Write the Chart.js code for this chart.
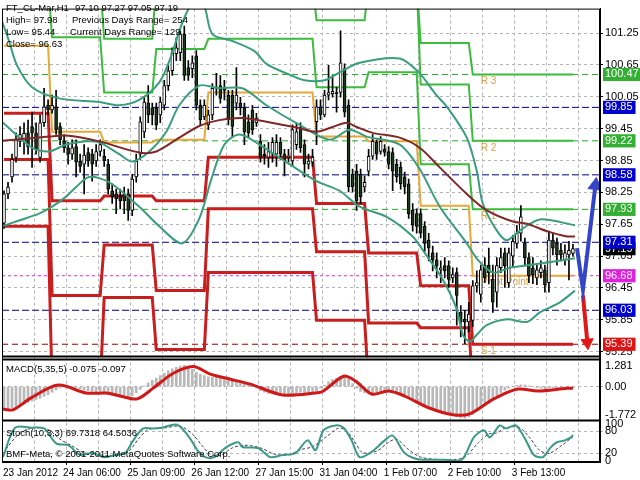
<!DOCTYPE html>
<html>
<head>
<meta charset="utf-8">
<script src="https://cdn.jsdelivr.net/npm/chart.js@4.4.0/dist/chart.umd.min.js"></script>
<style>
  html, body { margin: 0; padding: 0; background: #fff; }
  #wrap { width: 640px; height: 480px; }
</style>
</head>
<body>
<div id="wrap"><canvas id="chart" width="640" height="480"></canvas></div>
<script>
// ---- H1 candles, bar index 0..142 ----
const open = [
  97.67, 98.22, 98.54, 98.91, 99.21, 99.21, 99.37, 99.49, 99.37, 98.91,
  99.56, 99.89, 99.80, 99.86, 99.49, 99.21, 99.09, 98.97, 99.11, 98.84,
  98.78, 99.00, 98.97, 98.84, 99.02, 98.93, 98.78, 98.28, 98.22, 98.19,
  98.22, 98.22, 97.91, 98.54, 98.97, 99.39, 99.93, 99.84, 99.84, 99.71,
  99.89, 100.26, 100.54, 100.86, 100.88, 101.23, 100.60, 100.58, 100.82, 99.89,
  99.67, 99.52, 99.71, 100.21, 100.26, 100.21, 100.08, 100.08, 99.93, 99.93,
  99.84, 99.58, 99.80, 99.56, 99.21, 98.97, 98.91, 98.97, 98.97, 99.19,
  98.97, 98.91, 98.84, 99.15, 99.47, 99.15, 98.78, 98.82, 99.58, 99.86,
  99.71, 100.08, 100.11, 100.13, 100.13, 100.58, 99.89, 98.59, 98.65, 98.59,
  98.35, 98.65, 98.93, 99.19, 99.02, 99.06, 99.02, 99.00, 98.78, 98.72,
  98.54, 98.41, 97.91, 97.85, 97.85, 97.61, 97.35, 97.11, 96.98, 96.79,
  96.87, 96.87, 96.64, 96.74, 95.99, 95.86, 95.81, 95.84, 96.49, 96.33,
  96.87, 96.88, 96.61, 96.37, 96.83, 97.11, 96.55, 97.05, 97.29, 97.48,
  97.29, 97.02, 96.83, 96.64, 96.74, 96.79, 96.55, 97.35, 97.29, 97.16,
  96.98, 97.07, 97.10
];
const high = [
  98.28, 98.44, 98.97, 99.37, 99.49, 99.56, 99.61, 99.76, 99.56, 99.71,
  100.21, 99.99, 100.08, 100.17, 99.56, 99.34, 99.19, 99.24, 99.24, 98.97,
  99.15, 99.09, 99.06, 99.15, 99.24, 99.06, 98.87, 98.41, 98.31, 98.31,
  98.35, 98.31, 98.59, 98.97, 99.67, 100.04, 100.26, 99.93, 99.93, 100.04,
  100.36, 100.64, 100.97, 101.16, 101.29, 101.38, 100.73, 100.82, 100.92, 99.99,
  99.99, 99.80, 100.30, 100.49, 100.45, 100.36, 100.17, 100.17, 100.60, 100.04,
  99.93, 99.71, 99.89, 99.74, 99.34, 99.15, 99.19, 99.28, 99.34, 99.28,
  99.06, 99.06, 99.52, 99.56, 99.56, 99.24, 98.97, 99.06, 99.99, 99.99,
  100.17, 100.64, 100.45, 100.23, 101.29, 100.67, 99.99, 98.69, 98.78, 98.69,
  98.56, 99.06, 99.34, 99.24, 99.30, 99.15, 99.11, 99.09, 98.87, 98.82,
  98.63, 98.50, 98.04, 97.94, 97.94, 97.70, 97.48, 97.24, 97.11, 96.96,
  97.02, 96.96, 96.83, 96.83, 96.12, 96.03, 96.18, 96.59, 96.77, 96.88,
  97.02, 97.20, 96.88, 97.02, 97.20, 97.20, 97.20, 97.44, 97.63, 98.00,
  97.39, 97.11, 97.02, 96.88, 96.96, 96.88, 97.52, 97.48, 97.39, 97.29,
  97.26, 97.33, 97.27
];
const low = [
  97.57, 98.13, 98.44, 98.82, 99.11, 98.97, 98.97, 98.72, 98.97, 98.82,
  99.49, 99.71, 99.74, 99.34, 99.15, 99.00, 98.78, 98.87, 98.54, 98.63,
  98.22, 98.74, 98.46, 98.74, 98.93, 98.74, 98.22, 98.04, 97.85, 97.94,
  97.85, 97.72, 97.81, 98.44, 98.87, 99.28, 99.56, 99.52, 99.43, 99.56,
  99.80, 100.17, 100.45, 100.73, 100.73, 100.36, 100.36, 100.41, 99.80, 99.52,
  99.62, 99.43, 99.62, 100.08, 99.93, 99.99, 99.52, 99.28, 99.80, 99.71,
  99.15, 99.28, 99.34, 99.49, 98.82, 98.78, 98.72, 98.82, 98.74, 98.87,
  98.56, 98.82, 98.74, 99.06, 99.00, 98.54, 98.69, 98.74, 99.15, 99.62,
  99.67, 99.99, 100.04, 99.76, 100.04, 99.67, 98.26, 98.26, 97.91, 98.04,
  98.26, 98.56, 98.87, 98.87, 98.97, 98.93, 98.69, 98.28, 98.44, 98.31,
  98.22, 97.76, 97.52, 97.48, 97.39, 97.14, 96.96, 96.77, 96.64, 96.55,
  96.64, 96.46, 96.55, 95.75, 95.53, 95.40, 95.62, 95.72, 96.37, 96.18,
  96.55, 96.53, 95.99, 96.09, 96.74, 96.46, 96.46, 96.83, 97.20, 97.33,
  96.88, 96.55, 96.53, 96.51, 96.64, 96.37, 96.37, 97.07, 96.88, 96.96,
  96.88, 96.60, 97.05
];
const close = [
  98.22, 98.35, 98.87, 99.24, 99.34, 99.36, 99.11, 99.37, 99.06, 99.56,
  99.86, 99.80, 99.89, 99.43, 99.24, 99.09, 98.97, 99.09, 98.82, 98.74,
  98.95, 98.84, 98.78, 99.02, 99.15, 98.84, 98.31, 98.17, 98.13, 98.09,
  98.09, 97.91, 98.50, 98.84, 99.58, 99.95, 99.71, 99.71, 99.52, 99.95,
  100.26, 100.54, 100.88, 100.97, 101.23, 100.45, 100.45, 100.69, 99.89, 99.62,
  99.89, 99.71, 100.21, 100.23, 100.02, 100.17, 99.62, 99.49, 100.08, 99.84,
  99.39, 99.37, 99.43, 99.65, 98.91, 98.93, 99.02, 99.19, 99.19, 98.97,
  98.84, 98.93, 99.43, 99.39, 99.09, 98.78, 98.84, 98.91, 99.86, 99.71,
  100.08, 100.13, 100.15, 100.11, 100.69, 99.76, 98.35, 98.35, 98.09, 98.17,
  98.44, 98.93, 99.21, 98.97, 99.21, 99.00, 98.78, 98.65, 98.54, 98.41,
  98.35, 97.85, 97.63, 97.61, 97.48, 97.29, 97.20, 96.98, 96.87, 96.83,
  96.77, 96.61, 96.70, 96.31, 95.81, 95.81, 95.96, 96.49, 96.55, 96.79,
  96.64, 96.74, 96.18, 96.87, 97.02, 96.87, 97.11, 97.33, 97.48, 97.79,
  97.02, 96.68, 96.70, 96.79, 96.83, 96.51, 97.35, 97.20, 97.07, 97.07,
  97.11, 97.16, 97.19
];

// ---- indicator lines, [bar index, value] ----
const bbUpper = [[-0.5,101.47],[1.25,101.10],[3.25,100.64],[7,100.23],[13.75,100.02],[23.75,99.95],[28.75,99.89],[33.75,99.99],[38.75,100.32],[41.75,100.82],[43.75,101.29],[45.75,101.66],[47.75,101.90],[50,101.75],[52,101.23],[57,101.10],[62.5,100.91],[65.5,100.67],[70.5,100.49],[75,100.36],[80,100.36],[83.75,100.51],[88.75,100.69],[98.75,100.77],[103.75,100.49],[107.5,100.12],[110.75,99.84],[115.5,99.28],[118,98.65],[119.5,98.04],[123,97.53],[125.5,97.35],[128.75,97.53],[133.75,97.74],[142.5,97.63]];
const bbMiddle = [[-0.5,99.58],[7,99.09],[11.25,99.02],[15.5,99.15],[20.5,99.21],[23.75,99.19],[28.75,98.97],[32,98.83],[36.25,99.02],[40.5,99.39],[43.75,99.89],[48.75,100.26],[53.75,100.21],[59.5,100.21],[65.5,99.89],[73.75,99.52],[81.25,99.24],[86.25,99.43],[90.5,99.30],[98.75,99.15],[103.75,98.69],[108.75,97.98],[115.5,97.29],[118.25,96.98],[122,96.74],[126.25,96.83],[131.25,96.88],[142.5,97.01]];
const bbLower = [[-0.5,97.61],[3.75,97.72],[8.75,97.85],[12,97.98],[15.5,98.17],[18,98.35],[21.25,98.54],[26.25,98.44],[33.75,97.98],[38.75,97.61],[44.5,97.29],[48.75,97.76],[51.75,98.50],[55,99.15],[58.75,99.34],[63.75,99.15],[71.25,98.78],[78,98.46],[83.75,98.28],[88.75,97.98],[95.5,97.79],[102,97.42],[105,97.11],[109.5,96.61],[113,96.05],[114.5,95.57],[116.25,95.44],[118,95.57],[120.5,95.75],[125.5,95.86],[130.5,95.81],[133.75,95.99],[138.75,96.18],[142.5,96.40]];
const maSlow = [[-0.5,99.22],[11.25,99.30],[15.5,99.32],[23.75,99.21],[33.75,99.00],[38,99.02],[43.75,99.28],[48.75,99.50],[53.75,99.61],[59.5,99.65],[65.5,99.58],[73,99.47],[78,99.39],[82,99.48],[85.5,99.56],[88,99.48],[92,99.37],[98.75,99.28],[103.75,99.09],[108.75,98.72],[115.5,98.22],[120.5,97.91],[127,97.70],[130.5,97.66],[135.5,97.52],[140.5,97.42],[142.5,97.42]];

// ---- daily pivots (one value per day segment; 102.2 / 94.6 = off chart) ----
const segStart = [0, 12, 25, 38, 51, 78, 91, 104, 117];
const lastBar = 142;
const pivotR3 = [102.2, 102.2, 102.2, 102.2, 102.2, 102.2, 102.2, 101.06, 100.47];
const pivotR2 = [102.2, 102.2, 101.14, 102.2, 102.2, 101.49, 102.2, 100.28, 99.22];
const pivotR1 = [102.2, 101.17, 100.13, 100.95, 101.14, 100.23, 100.51, 98.78, 97.93];
const pivotP  = [101.01, 99.39, 99.19, 99.24, 100.13, 99.30, 99.21, 98.00, 96.68];
const pivotS1 = [99.74, 98.09, 98.18, 98.09, 98.91, 98.04, 97.11, 96.49, 95.39];
const pivotS2 = [98.87, 96.31, 97.26, 96.40, 97.94, 97.13, 95.79, 95.70, 94.6];
const pivotS3 = [97.61, 94.6, 96.27, 95.29, 96.74, 95.84, 94.6, 94.6, 94.6];

// today's levels (right side labels)
const levelValues = [100.47, 99.85, 99.22, 98.58, 97.93, 97.31, 96.68, 96.03, 95.39];
const levelKinds  = ['R', 'M', 'R', 'M', 'R', 'M', 'P', 'M', 'S'];
const levelNames  = ['R 3', '', 'R 2', '', 'R 1', '', 'Pivot Point', '', 'S 1'];
const lastPrice = 97.19;

// forecast zigzag
const forecastUp = [[143, 97.20], [144.5, 96.42], [147.6, 98.38]];
const forecastDown = [[144.5, 96.31], [145.6, 95.42]];

// ---- MACD(5,35,5) ----
const macdHist = [
  -1.35, -1.38, -1.35, -1.28, -1.20, -1.10, -1.00, -0.90, -0.80, -0.72,
  -0.62, -0.50, -0.35, -0.20, -0.08, 0.00, 0.05, 0.02, -0.05, -0.12,
  -0.20, -0.25, -0.30, -0.32, -0.30, -0.35, -0.45, -0.55, -0.62, -0.66,
  -0.70, -0.68, -0.55, -0.38, -0.18, 0.05, 0.25, 0.40, 0.55, 0.70,
  0.85, 1.00, 1.12, 1.22, 1.30, 1.35, 1.25, 1.10, 0.90, 0.78,
  0.70, 0.62, 0.60, 0.58, 0.55, 0.50, 0.45, 0.38, 0.35, 0.30,
  0.22, 0.12, 0.00, -0.10, -0.25, -0.35, -0.42, -0.45, -0.48, -0.50,
  -0.50, -0.48, -0.42, -0.38, -0.35, -0.38, -0.40, -0.38, -0.30, -0.10,
  0.10, 0.30, 0.45, 0.55, 0.65, 0.70, 0.50, 0.20, -0.10, -0.30,
  -0.40, -0.45, -0.40, -0.35, -0.30, -0.28, -0.30, -0.35, -0.42, -0.50,
  -0.58, -0.70, -0.82, -0.95, -1.05, -1.15, -1.25, -1.35, -1.45, -1.52,
  -1.60, -1.70, -1.80, -1.88, -1.95, -1.98, -1.90, -1.75, -1.55, -1.35,
  -1.15, -0.95, -0.75, -0.55, -0.38, -0.22, -0.10, 0.00, 0.08, 0.12,
  0.10, 0.05, 0.00, -0.05, -0.10, -0.12, -0.10, -0.08, -0.08, -0.09,
  -0.08, -0.08, -0.075
];
const macdSignal = [[-0.5,-1.40],[2.25,-1.46],[6.75,-0.71],[13.5,0.10],[20.5,-0.40],[25.5,-0.40],[29,-0.59],[33.25,-0.77],[37.25,-0.09],[42.25,0.85],[47.25,1.28],[51.5,0.79],[56.5,0.47],[61.5,0.16],[69.5,-0.52],[77.75,-0.40],[79.75,-0.27],[84.75,0.66],[87.75,0.35],[91.75,-0.46],[96,-0.27],[100,-0.59],[106,-1.33],[112,-1.77],[116.25,-1.71],[122.25,-0.77],[128.25,-0.15],[133.25,-0.27],[140.5,-0.10],[142,-0.097]];
const macdTicks = [1.281, 0, -1.772];

// ---- Stoch(10,3,3) ----
const stochMain = [[-0.25,10],[2.75,89],[6.75,89],[10,87],[13,47],[16,42],[19,16],[22,21],[25,10],[28,16],[30.25,21],[32.25,55],[34.75,87],[37.25,87],[39.25,89],[43.25,97],[46.25,63],[48.25,29],[50.25,10],[52.5,10],[55.5,37],[58.5,50],[59.5,37],[63.5,34],[66.5,10],[69.5,16],[72.75,21],[75.75,55],[77.75,29],[79.75,82],[82.75,95],[84.75,89],[86.75,55],[88.75,10],[91.75,24],[95,55],[97,68],[100,21],[103,5],[106,3],[110,3],[114.25,3],[117.25,63],[119.75,82],[121.25,63],[123.75,95],[125.25,87],[127.75,95],[130.25,55],[132.25,16],[134.5,10],[136.5,37],[138,50],[140,55],[141.5,63],[142,69.7]];
const stochSignal = [[-0.25,20],[3.5,70],[7,88],[11,84],[14,58],[17,40],[20,22],[23,18],[26,13],[29,16],[31.5,30],[33.5,58],[36,84],[40,88],[44,93],[47,72],[49.5,40],[51.5,18],[54,15],[57,35],[60,42],[64,35],[67.5,18],[71,16],[74,30],[77,38],[80.5,65],[83.5,88],[85.5,80],[87.5,52],[89.5,22],[93,26],[96,50],[98,58],[101,30],[104,10],[108,4],[112,3],[115,10],[118.5,50],[121,72],[123,75],[125,88],[128.5,90],[131,65],[133.5,30],[136,20],[139,40],[142,64.5]];
const stochTicks = [100, 80, 20, 0];

// ---- time axis ----
const timeTickPos = [0.5, 15.5, 31.5, 47.5, 63.5, 79.5, 95.5, 111.5, 127.5];
const timeLabels = ['23 Jan 2012', '24 Jan 06:00', '25 Jan 09:00', '26 Jan 12:00', '27 Jan 15:00', '31 Jan 04:00', '1 Feb 07:00', '2 Feb 10:00', '3 Feb 13:00'];
const priceTicks = [95.25, 95.85, 96.45, 97.05, 97.65, 98.25, 98.85, 99.45, 100.05, 100.65, 101.25];

const X_MIN = -0.5, X_MAX = 148.75;
const gridTicks = [0.5];
for (let v = 7.5; v < X_MAX; v += 8) gridTicks.push(v);

const kindLine = { R: '#22aa22', M: '#000080', P: '#cc33cc', S: '#990000' };
const kindBox = { R: '#33b033', M: '#0000cc', P: '#e020e0', S: '#e01414' };
const kindDash = { R: [6, 4], M: [7, 3], P: [3, 3], S: [6, 4] };

function pts(arr) { return arr.map(p => ({ x: p[0], y: p[1] })); }
function steps(vals) {
  const out = [];
  vals.forEach((v, d) => {
    const end = d + 1 < segStart.length ? segStart[d + 1] - 1 : lastBar;
    out.push({ x: segStart[d], y: v }, { x: end, y: v });
  });
  return out;
}
function line(data, color, width, extra) {
  return Object.assign({ type: 'line', data: data, borderColor: color, backgroundColor: color,
    borderWidth: width, pointRadius: 0, fill: false, tension: 0, yAxisID: 'y' }, extra || {});
}

const datasets = [];
levelValues.forEach((v, k) => {
  datasets.push(line([{ x: X_MIN, y: v }, { x: X_MAX, y: v }], kindLine[levelKinds[k]], 1,
    { borderDash: kindDash[levelKinds[k]], order: 30 }));
});
[pivotR3, pivotR2, pivotR1].forEach(a => datasets.push(line(steps(a), '#3cbc3c', 2, { order: 20 })));
datasets.push(line(steps(pivotP), '#e8a838', 2, { order: 20 }));
[pivotS1, pivotS2, pivotS3].forEach(a => datasets.push(line(steps(a), '#c81e1e', 3, { order: 20 })));

datasets.push({ type: 'bar', yAxisID: 'y', order: 12, grouped: false, barThickness: 1,
  backgroundColor: '#000', data: open.map((o, i) => ({ x: i, y: [low[i], high[i]] })) });
datasets.push({ type: 'bar', yAxisID: 'y', order: 11, grouped: false, barThickness: 3, minBarLength: 1,
  borderSkipped: false, borderWidth: 1, borderColor: '#000',
  backgroundColor: open.map((o, i) => close[i] >= o ? '#ffffff' : '#1e3a1e'),
  data: open.map((o, i) => ({ x: i, y: [o, close[i]] })) });

datasets.push(line(pts(bbUpper), '#3a9e7e', 2, { order: 5, tension: 0.3 }));
datasets.push(line(pts(bbMiddle), '#3a9e7e', 2, { order: 5, tension: 0.3 }));
datasets.push(line(pts(bbLower), '#3a9e7e', 2, { order: 5, tension: 0.3 }));
datasets.push(line(pts(maSlow), '#802828', 2, { order: 4, tension: 0.3 }));

datasets.push(line(pts(forecastUp), '#3545c8', 4, { order: 1, pointStyle: 'triangle',
  pointRadius: [0, 0, 8], pointRotation: [0, 0, 7], pointBorderWidth: 1 }));
datasets.push(line(pts(forecastDown), '#e01818', 4, { order: 1, pointStyle: 'triangle',
  pointRadius: [0, 7], pointRotation: [0, 175], pointBorderWidth: 1 }));

datasets.push({ type: 'bar', yAxisID: 'yMacd', order: 3, grouped: false, barThickness: 2,
  backgroundColor: '#b8b8b8', data: macdHist.map((v, i) => ({ x: i, y: v })) });
datasets.push(line(pts(macdSignal), '#d01818', 3, { yAxisID: 'yMacd', order: 2, tension: 0.3 }));

datasets.push(line(pts(stochSignal), '#404040', 1, { yAxisID: 'yStoch', order: 3, borderDash: [3, 2], tension: 0.3 }));
datasets.push(line(pts(stochMain), '#3a9a8a', 2, { yAxisID: 'yStoch', order: 2, tension: 0.3 }));

function levelIndex(v) { return levelValues.indexOf(v); }
function isPlainPrice(v) { return priceTicks.indexOf(v) >= 0; }

const panes = {
  id: 'panes',
  beforeDatasetDraw(chart, args) {
    const s = chart.scales[args.meta.yAxisID];
    const a = chart.chartArea;
    chart.ctx.save();
    chart.ctx.beginPath();
    chart.ctx.rect(a.left, s.top, a.right - a.left, s.bottom - s.top);
    chart.ctx.clip();
  },
  afterDatasetDraw(chart) { chart.ctx.restore(); },
  beforeDatasetsDraw(chart) {
    const ctx = chart.ctx, x = chart.scales.x, y = chart.scales.y;
    ctx.save();
    ctx.font = '10px "Liberation Sans"';
    ctx.fillStyle = '#e0a040';
    ctx.textBaseline = 'middle';
    levelNames.forEach((n, k) => {
      if (n) ctx.fillText(n, x.getPixelForValue(119), y.getPixelForValue(levelValues[k]) + 7);
    });
    ctx.restore();
  },
  afterDatasetsDraw(chart) {
    const ctx = chart.ctx, a = chart.chartArea, s = chart.scales;
    ctx.save();
    ctx.strokeStyle = '#000';
    ctx.lineWidth = 1;
    ctx.strokeRect(a.left + 0.5, a.top + 0.5, a.right - a.left - 1, a.bottom - a.top - 1);
    ctx.lineWidth = 2;
    ctx.beginPath();
    ctx.moveTo(a.left, s.y.bottom - 1); ctx.lineTo(a.right, s.y.bottom - 1);
    ctx.moveTo(a.left, s.y.bottom + 2); ctx.lineTo(a.right, s.y.bottom + 2);
    ctx.moveTo(a.left, s.yMacd.bottom); ctx.lineTo(a.right, s.yMacd.bottom);
    ctx.stroke();

    ctx.fillStyle = '#000';
    ctx.font = '9.5px "Liberation Sans"';
    ctx.textBaseline = 'middle';
    ctx.fillText('FT_CL-Mar,H1', 6, 8);
    ctx.fillText('97.10 97.27 97.05 97.19', 75, 8);
    ctx.fillText('High= 97.98', 6, 20);
    ctx.fillText('Previous Days Range= 254', 72, 20);
    ctx.fillText('Low= 95.44', 6, 32);
    ctx.fillText('Current Days Range= 129', 70, 32);
    ctx.fillText('Close= 96.63', 6, 44);
    ctx.fillText('MACD(5,35,5) -0.075 -0.097', 6, s.yMacd.top + 12);
    ctx.fillText('Stoch(10,3,3) 69.7318 64.5036', 6, s.yStoch.top + 13);
    ctx.fillText('BMF-Meta, \u00a9 2001-2011 MetaQuotes Software Corp.', 6, s.yStoch.top + 34);
    ctx.restore();
  }
};

Chart.defaults.font.family = '"Liberation Sans", Arial, sans-serif';
Chart.defaults.font.size = 11;
Chart.defaults.color = '#000';

new Chart(document.getElementById('chart'), {
  type: 'line',
  data: { datasets: datasets },
  options: {
    responsive: false,
    animation: false,
    events: [],
    layout: { autoPadding: false, padding: { left: 2, top: 2, right: 0, bottom: 0 } },
    plugins: { legend: { display: false }, tooltip: { enabled: false } },
    scales: {
      x: {
        type: 'linear', min: X_MIN, max: X_MAX, offset: false,
        afterBuildTicks: s => { s.ticks = gridTicks.map(v => ({ value: v })); },
        afterFit: s => { s.height = 18; },
        ticks: {
          autoSkip: false, maxRotation: 0, minRotation: 0, align: 'start', padding: 2, labelOffset: -3,
          font: { size: 10 },
          callback: v => { const k = timeTickPos.indexOf(v); return k >= 0 ? timeLabels[k] : ''; }
        },
        grid: {
          offset: false, tickLength: 3,
          color: c => (c.tick && c.tick.value > 1) ? '#b4b4b4' : 'rgba(0,0,0,0)',
          tickColor: c => (c.tick && c.tick.value > 1 && timeTickPos.indexOf(c.tick.value) >= 0) ? '#000' : 'rgba(0,0,0,0)'
        },
        border: { color: '#000', dash: [3, 3] }
      },
      y: {
        type: 'linear', position: 'right', stack: 'panes', stackWeight: 354,
        min: 95.14, max: 101.71,
        afterBuildTicks: s => {
          s.ticks = priceTicks.concat([lastPrice], levelValues).map(v => ({ value: v }));
        },
        afterFit: s => { s.width = 40; },
        ticks: {
          autoSkip: false, padding: 2,
          callback: v => v.toFixed(2),
          color: c => (c.tick && isPlainPrice(c.tick.value)) ? '#000' : '#fff',
          showLabelBackdrop: true,
          backdropPadding: { left: 2, right: 3, top: 0, bottom: 0 },
          backdropColor: c => {
            if (!c.tick) return 'rgba(0,0,0,0)';
            if (c.tick.value === lastPrice) return '#000';
            const k = levelIndex(c.tick.value);
            return k >= 0 ? kindBox[levelKinds[k]] : 'rgba(0,0,0,0)';
          }
        },
        grid: {
          tickLength: 3,
          color: c => (c.tick && isPlainPrice(c.tick.value)) ? '#b4b4b4' : 'rgba(0,0,0,0)',
          tickColor: c => (c.tick && isPlainPrice(c.tick.value)) ? '#000' : 'rgba(0,0,0,0)'
        },
        border: { color: '#000', dash: [3, 3] }
      },
      yMacd: {
        type: 'linear', position: 'right', stack: 'panes', stackWeight: 64,
        min: -2.14, max: 1.84,
        afterBuildTicks: s => { s.ticks = macdTicks.map(v => ({ value: v })); },
        afterFit: s => { s.width = 40; },
        ticks: { autoSkip: false, padding: 2, callback: v => v === 0 ? '0.00' : String(v) },
        grid: { tickLength: 3, color: c => (c.tick && c.tick.value === 0) ? '#b4b4b4' : 'rgba(0,0,0,0)' },
        border: { color: '#000', dash: [3, 3] }
      },
      yStoch: {
        type: 'linear', position: 'right', stack: 'panes', stackWeight: 42,
        min: -3, max: 108,
        afterBuildTicks: s => { s.ticks = stochTicks.map(v => ({ value: v })); },
        afterFit: s => { s.width = 40; },
        ticks: { autoSkip: false, padding: 2, callback: v => String(v) },
        grid: { tickLength: 3, color: c => (c.tick && (c.tick.value === 20 || c.tick.value === 80)) ? '#b4b4b4' : 'rgba(0,0,0,0)' },
        border: { color: '#000', dash: [3, 3] }
      }
    }
  },
  plugins: [panes]
});
</script>
</body>
</html>
